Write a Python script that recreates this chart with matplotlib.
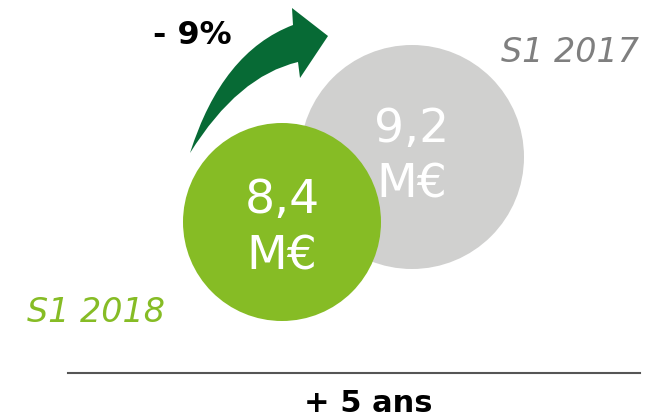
import matplotlib.pyplot as plt
from matplotlib.patches import Circle, PathPatch
from matplotlib.path import Path

# Données
periodes = ['S1 2017', 'S1 2018']
valeurs = [9.2, 8.4]
variation = '- 9%'
duree = '+ 5 ans'

couleurs = ['#d0d0cf', '#86bc25']
couleurs_label = ['#7f7f7f', '#86bc25']

# Mise en page (coordonnées en pixels)
centres = [(412, 157), (282, 222)]
rayons = [112, 99]
lignes_texte = [(142, 198), (213, 270)]  # lignes de base valeur / unité
pos_labels = [(570, 52), (96, 313)]

fig = plt.figure(figsize=(6.62, 4.2), dpi=100)
ax = fig.add_axes([0, 0, 1, 1])
ax.set_xlim(0, 662)
ax.set_ylim(420, 0)
ax.set_aspect('equal')
ax.axis('off')

for i, v in enumerate(valeurs):
    cx, cy = centres[i]
    ax.add_patch(Circle((cx, cy), rayons[i], color=couleurs[i], zorder=2 + i, lw=0))
    txt = f'{v}'.replace('.', ',')
    y1, y2 = lignes_texte[i]
    ax.text(cx, y1, txt, color='white', fontsize=34, ha='center', va='baseline', zorder=5)
    ax.text(cx, y2, 'M€', color='white', fontsize=34, ha='center', va='baseline', zorder=5)
    lx, ly = pos_labels[i]
    ax.text(lx, ly, periodes[i], color=couleurs_label[i], fontsize=24, style='italic',
            ha='center', va='center')

# Flèche courbe
verts = [(190, 153), (222, 52), (293, 25), (292, 8), (328, 36), (300, 78),
         (298, 62), (238, 76), (190, 153), (190, 153)]
codes = [Path.MOVETO, Path.CURVE3, Path.CURVE3, Path.LINETO, Path.LINETO,
         Path.LINETO, Path.LINETO, Path.CURVE3, Path.CURVE3, Path.CLOSEPOLY]
ax.add_patch(PathPatch(Path(verts, codes), facecolor='#076a35', lw=0, zorder=4))

ax.text(192, 35, variation, fontsize=23, fontweight='bold', ha='center', va='center')

ax.plot([68, 640], [373, 373], color='#555555', lw=1.5)
ax.text(368, 404, duree, fontsize=22, fontweight='bold', ha='center', va='center')

fig.savefig('out.png', dpi=100)
